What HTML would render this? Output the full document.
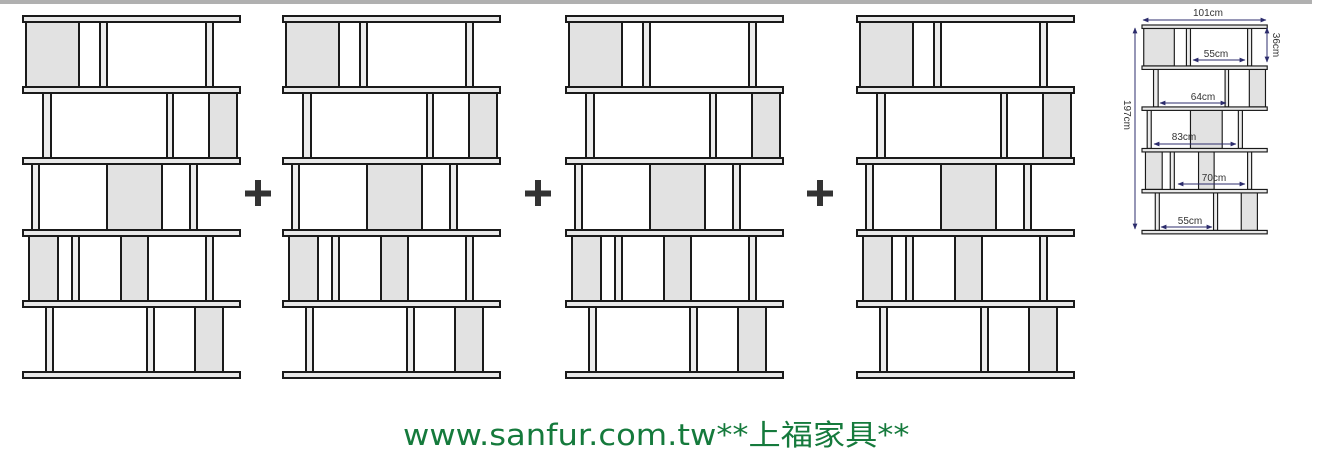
<!DOCTYPE html>
<html><head><meta charset="utf-8"><style>
html,body{margin:0;padding:0;background:#fff;}
body{width:1317px;height:468px;overflow:hidden;position:relative;}
.t{position:absolute;left:403px;top:412px;font-family:"DejaVu Sans","Noto Sans CJK TC",sans-serif;font-size:29px;color:#157a3c;white-space:nowrap;transform:scaleX(1.11);transform-origin:0 0;}
</style></head><body>
<svg width="1317" height="468" style="position:absolute;left:0;top:0">
<defs>
<marker id="a" viewBox="0 0 10 10" refX="9" refY="5" markerWidth="6" markerHeight="6" orient="auto-start-reverse"><path d="M0,1 L10,5 L0,9 z" fill="#2c2c6c"/></marker>
<g id="u" stroke="#1a1a1a" stroke-width="2">
<rect x="26" y="22" width="53" height="65" fill="#e2e2e2"/>
<rect x="100" y="22" width="7" height="65" fill="#ececec"/>
<rect x="206" y="22" width="7" height="65" fill="#ececec"/>
<rect x="43" y="93" width="8" height="65" fill="#ececec"/>
<rect x="167" y="93" width="6" height="65" fill="#ececec"/>
<rect x="209" y="93" width="28" height="65" fill="#e2e2e2"/>
<rect x="32" y="164" width="7" height="66" fill="#ececec"/>
<rect x="107" y="164" width="55" height="66" fill="#e2e2e2"/>
<rect x="190" y="164" width="7" height="66" fill="#ececec"/>
<rect x="29" y="236" width="29" height="65" fill="#e2e2e2"/>
<rect x="72" y="236" width="7" height="65" fill="#ececec"/>
<rect x="121" y="236" width="27" height="65" fill="#e2e2e2"/>
<rect x="206" y="236" width="7" height="65" fill="#ececec"/>
<rect x="46" y="307" width="7" height="65" fill="#ececec"/>
<rect x="147" y="307" width="7" height="65" fill="#ececec"/>
<rect x="195" y="307" width="28" height="65" fill="#e2e2e2"/>
<rect x="23" y="16" width="217" height="6" fill="#e8e8e8"/>
<rect x="23" y="87" width="217" height="6" fill="#e8e8e8"/>
<rect x="23" y="158" width="217" height="6" fill="#e8e8e8"/>
<rect x="23" y="230" width="217" height="6" fill="#e8e8e8"/>
<rect x="23" y="301" width="217" height="6" fill="#e8e8e8"/>
<rect x="23" y="372" width="217" height="6" fill="#e8e8e8"/>
</g>
</defs>
<rect x="0" y="0" width="1312" height="4" fill="#b0b0b0"/>
<use href="#u"/>
<use href="#u" x="260"/>
<use href="#u" x="543"/>
<use href="#u" x="834"/>
<g fill="#333">
<rect x="245" y="190.5" width="26" height="6"/><rect x="255" y="180" width="6" height="26"/>
<rect x="525" y="190.5" width="26" height="6"/><rect x="535" y="180" width="6" height="26"/>
<rect x="807" y="190.5" width="26" height="6"/><rect x="817" y="180" width="6" height="26"/>
</g>
<g transform="translate(1142,25) scale(0.577) translate(-23,-16)"><use href="#u"/></g>
<g stroke="#2c2c6c" stroke-width="1" marker-start="url(#a)" marker-end="url(#a)">
<line x1="1143" y1="20" x2="1266" y2="20"/>
<line x1="1135" y1="28" x2="1135" y2="229"/>
<line x1="1267" y1="28" x2="1267" y2="62"/>
<line x1="1193" y1="60" x2="1245" y2="60"/>
<line x1="1160" y1="103" x2="1226" y2="103"/>
<line x1="1154" y1="144" x2="1236" y2="144"/>
<line x1="1178" y1="184" x2="1245" y2="184"/>
<line x1="1161" y1="227" x2="1212" y2="227"/>
</g>
<g font-family="Liberation Sans,sans-serif" font-size="10" fill="#333" text-anchor="middle">
<text x="1208" y="16">101cm</text>
<text x="1216" y="57">55cm</text>
<text x="1203" y="100">64cm</text>
<text x="1184" y="140">83cm</text>
<text x="1214" y="181">70cm</text>
<text x="1190" y="224">55cm</text>
<text transform="translate(1124,115) rotate(90)">197cm</text>
<text transform="translate(1273,45) rotate(90)">36cm</text>
</g>
</svg>
<div class="t">www.sanfur.com.tw**上福家具**</div>
</body></html>
